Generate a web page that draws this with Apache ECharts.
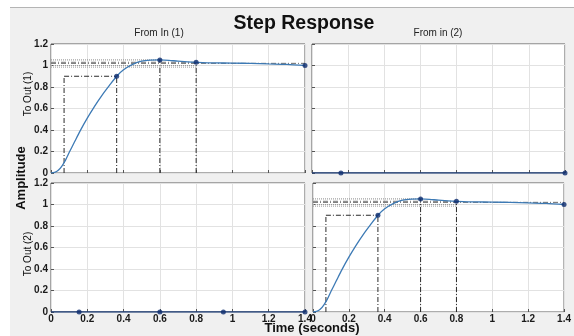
<!DOCTYPE html>
<html>
<head>
<meta charset="utf-8">
<script src="https://cdn.jsdelivr.net/npm/echarts@6/dist/echarts.min.js"></script>
<style>
  html, body { margin: 0; padding: 0; background: #fff; }
  #chart { width: 574px; height: 336px; }
</style>
</head>
<body>
<div id="chart"></div>
<script>
// Step response of the (1,1) and (2,2) channels, seconds
const timeSec = [0, 0.02, 0.04, 0.06, 0.08, 0.1, 0.13, 0.16, 0.2, 0.24, 0.28, 0.32, 0.362, 0.4, 0.45, 0.5, 0.55, 0.6, 0.65, 0.7, 0.8, 0.9, 1.0, 1.1, 1.2, 1.3, 1.4];
const stepOut = [0, 0.005, 0.025, 0.065, 0.12, 0.19, 0.29, 0.39, 0.51, 0.62, 0.72, 0.81, 0.9, 0.96, 1.01, 1.04, 1.05, 1.052, 1.048, 1.04, 1.03, 1.025, 1.022, 1.02, 1.015, 1.01, 1.0];

// Characteristic points: rise (10% / 90%), peak, settling, final value
const riseStart = 0.072;
const riseEnd = 0.362;
const riseLevel = 0.9;
const peakTime = 0.6;
const peakValue = 1.052;
const settleTime = 0.8;
const settleValue = 1.03;
const finalTime = 1.4;
const finalValue = 1.0;
const settleBand = [1.02, 1.0, 0.985];

// Cross-coupling channels: flat zero response with marker points
const zeroTimesTR = [0.16, 1.4];
const zeroTimesBL = [0.155, 0.6, 0.95, 1.4];

const xTicks = ['0', '0.2', '0.4', '0.6', '0.8', '1', '1.2', '1.4'];
const yTicks = ['0', '0.2', '0.4', '0.6', '0.8', '1', '1.2'];

const curveColor = '#3d7ab5';
const dotColor = '#0d2c6e';
const refColor = '#2a2a2a';
const labelFont = { fontFamily: 'Liberation Sans', fontSize: 10, fontWeight: 'bold', color: '#1a1a1a' };

const grids = [
  { left: 51, top: 44, width: 254, height: 129 },
  { left: 312, top: 44, width: 253, height: 129 },
  { left: 51, top: 183, width: 254, height: 129 },
  { left: 313, top: 183, width: 252, height: 129 }
].map(g => Object.assign({ show: true, backgroundColor: '#fff', borderColor: '#5a5a5a', borderWidth: 1 }, g));

function xAx(i, labels) {
  return {
    type: 'value', gridIndex: i, min: 0, max: 1.4, interval: 0.2,
    axisLine: { show: false },
    axisTick: { show: true, inside: true, length: 3, lineStyle: { color: '#555' } },
    splitLine: { show: true, lineStyle: { color: '#e2e2e2' } },
    axisLabel: Object.assign({ show: labels, margin: 2, hideOverlap: false, showMinLabel: true, showMaxLabel: true,
      formatter: v => xTicks[Math.round(v / 0.2)] }, labelFont)
  };
}
function yAx(i, labels) {
  return {
    type: 'value', gridIndex: i, min: 0, max: 1.2, interval: 0.2,
    axisLine: { show: false },
    axisTick: { show: true, inside: true, length: 3, lineStyle: { color: '#555' } },
    splitLine: { show: true, lineStyle: { color: '#e2e2e2' } },
    axisLabel: Object.assign({ show: labels, margin: 3, showMinLabel: true, showMaxLabel: true,
      formatter: v => yTicks[Math.round(v / 0.2)] }, labelFont)
  };
}

function seg(i, pts, type, color) {
  return {
    type: 'line', xAxisIndex: i, yAxisIndex: i, data: pts, symbol: 'none', silent: true, z: 3,
    lineStyle: { color: color || refColor, width: 1, type: type }
  };
}

function stepPanel(i) {
  const dash = [5, 2, 1, 2];
  const dot = [1, 1];
  return [
    seg(i, [[riseStart, 0], [riseStart, riseLevel]], dash),
    seg(i, [[riseEnd, 0], [riseEnd, riseLevel]], dash),
    seg(i, [[riseStart, riseLevel], [riseEnd, riseLevel]], dash),
    seg(i, [[peakTime, 0], [peakTime, peakValue]], dash),
    seg(i, [[settleTime, 0], [settleTime, settleValue]], dash),
    seg(i, [[0, peakValue], [peakTime, peakValue]], dot, '#8a8a8a'),
    seg(i, [[0, settleValue], [settleTime, settleValue]], dash, '#7a7a7a'),
    seg(i, [[0, settleBand[0]], [finalTime, settleBand[0]]], dash, '#6a6a6a'),
    seg(i, [[0, settleBand[1]], [settleTime, settleBand[1]]], dot, '#9a9a9a'),
    seg(i, [[0, settleBand[2]], [settleTime, settleBand[2]]], dot, '#9a9a9a'),
    {
      type: 'line', xAxisIndex: i, yAxisIndex: i, smooth: 0.3, symbol: 'none', z: 4,
      data: timeSec.map((t, k) => [t, stepOut[k]]),
      lineStyle: { color: curveColor, width: 1.3 }
    },
    {
      type: 'scatter', xAxisIndex: i, yAxisIndex: i, symbolSize: 5, z: 5,
      itemStyle: { color: dotColor },
      data: [[riseEnd, riseLevel], [peakTime, peakValue], [settleTime, settleValue], [finalTime, finalValue]]
    }
  ];
}

function zeroPanel(i, times) {
  return [
    {
      type: 'line', xAxisIndex: i, yAxisIndex: i, symbol: 'none', z: 4,
      data: [[0, 0], [1.4, 0]], lineStyle: { color: '#1f3f78', width: 1.5 }
    },
    {
      type: 'scatter', xAxisIndex: i, yAxisIndex: i, symbolSize: 5, z: 5,
      itemStyle: { color: dotColor }, data: times.map(t => [t, 0])
    }
  ];
}

const rotLabel = (text, x, y, size, weight) => ({
  type: 'text', x: x, y: y, rotation: Math.PI / 2, z: 10,
  style: { text: text, align: 'center', verticalAlign: 'middle', fontFamily: 'Liberation Sans', fontSize: size, fontWeight: weight, fill: '#111' }
});

const chart = echarts.init(document.getElementById('chart'), null, { renderer: 'canvas' });
chart.setOption({
  animation: false,
  backgroundColor: '#fff',
  graphic: [
    { type: 'rect', z: -10, shape: { x: 10, y: 7, width: 564, height: 329 }, style: { fill: '#f0f0f0' } },
    { type: 'line', z: -9, shape: { x1: 10, y1: 7.5, x2: 574, y2: 7.5 }, style: { stroke: '#b4b4b4', lineWidth: 1 } },
    rotLabel('To Out (1)', 28, 94, 10, 'normal'),
    rotLabel('To Out (2)', 28, 254, 10, 'normal'),
    rotLabel('Amplitude', 21, 178, 13, 'bold'),
    {
      type: 'text', x: 312, y: 328, z: 10,
      style: { text: 'Time (seconds)', align: 'center', verticalAlign: 'middle', fontFamily: 'Liberation Sans', fontSize: 13, fontWeight: 'bold', fill: '#111' }
    }
  ],
  title: [
    { text: 'Step Response', left: 304, top: 14, textAlign: 'center', padding: 0,
      textStyle: { fontFamily: 'Liberation Sans', fontSize: 19.5, fontWeight: 'bold', color: '#111' } },
    { text: 'From In (1)', left: 159, top: 28, textAlign: 'center', padding: 0,
      textStyle: { fontFamily: 'Liberation Sans', fontSize: 10, fontWeight: 'normal', color: '#222' } },
    { text: 'From in (2)', left: 438, top: 28, textAlign: 'center', padding: 0,
      textStyle: { fontFamily: 'Liberation Sans', fontSize: 10, fontWeight: 'normal', color: '#222' } }
  ],
  grid: grids,
  xAxis: [xAx(0, false), xAx(1, false), xAx(2, true), xAx(3, true)],
  yAxis: [yAx(0, true), yAx(1, false), yAx(2, true), yAx(3, false)],
  series: [].concat(stepPanel(0), zeroPanel(1, zeroTimesTR), zeroPanel(2, zeroTimesBL), stepPanel(3))
});
</script>
</body>
</html>
